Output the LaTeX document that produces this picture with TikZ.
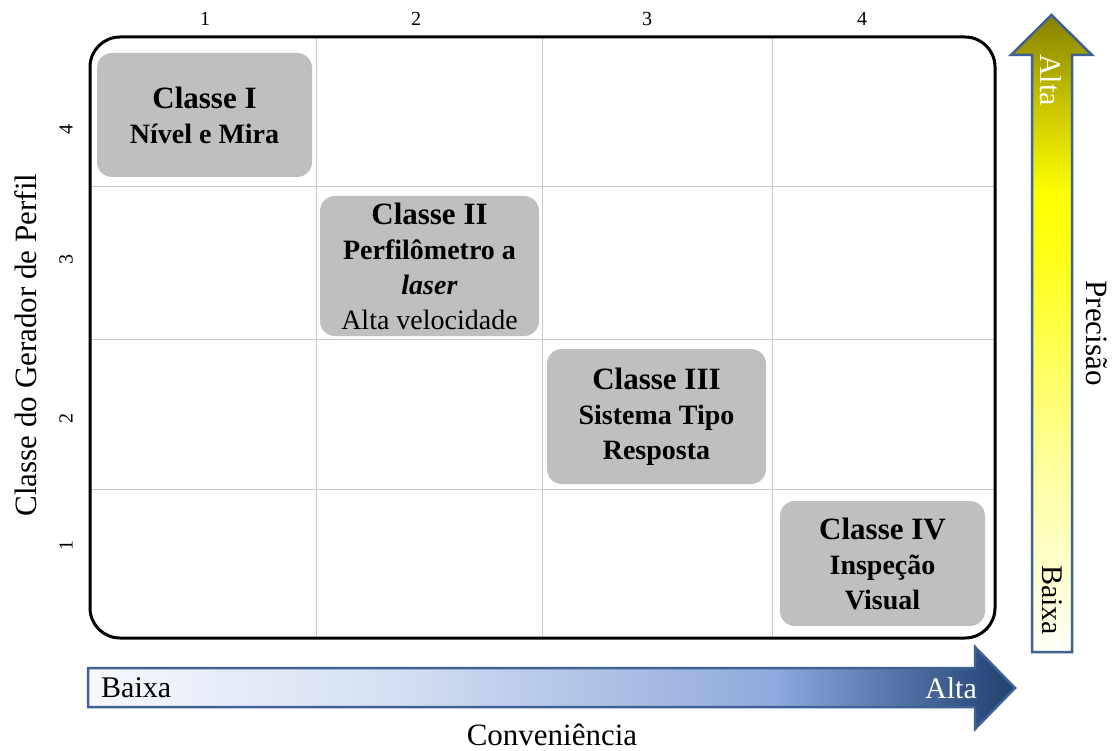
\documentclass[tikz,border=0pt]{standalone}
\usepackage{fontspec}
\setmainfont{Liberation Serif}

\definecolor{boxgray}{HTML}{BFBFBF}
\definecolor{gridgray}{HTML}{C8C8C8}
\definecolor{arrowedge}{HTML}{3F6293}
% convenience arrow colours
\definecolor{cv0}{HTML}{F6F8FD}
\definecolor{cv1}{HTML}{D5E0F2}
\definecolor{cv2}{HTML}{8FAADC}
\definecolor{cv3}{HTML}{2F4F82}
\definecolor{cv4}{HTML}{263F6B}
% precision arrow colours
\definecolor{pr0}{HTML}{FFFFF8}
\definecolor{pr1}{HTML}{FFFF9A}
\definecolor{pr2}{HTML}{FFFF20}
\definecolor{pr3}{HTML}{FFFF00}
\definecolor{pr4}{HTML}{C9C400}
\definecolor{pr5}{HTML}{858000}

\pgfdeclarehorizontalshading{convshade}{100bp}{color(0bp)=(cv0); color(25bp)=(cv0); color(41bp)=(cv1); color(62bp)=(cv2); color(73bp)=(cv3); color(75bp)=(cv4); color(100bp)=(cv4)}
\pgfdeclareverticalshading{precshade}{100bp}{color(0bp)=(pr0); color(25bp)=(pr0); color(40bp)=(pr1); color(55bp)=(pr2); color(61bp)=(pr3); color(68bp)=(pr4); color(75bp)=(pr5); color(100bp)=(pr5)}

\tikzset{
  classbox/.style={fill=boxgray, rounded corners=15pt, align=center, inner sep=0pt,
    font=\fontsize{28}{35}\selectfont\bfseries},
  gridline/.style={draw=gridgray, line width=1pt},
  numlabel/.style={font=\fontsize{20}{24}\selectfont, inner sep=0pt},
  axislabel/.style={font=\fontsize{31}{36}\selectfont, inner sep=0pt},
  arrowtext/.style={font=\fontsize{30}{36}\selectfont, inner sep=0pt},
  arrowshape/.style={draw=arrowedge, line width=2.5pt, line join=miter},
}
\newcommand{\titlesize}{\fontsize{31}{35}\selectfont}

\begin{document}
\begin{tikzpicture}[x=1pt, y=-1pt]
\useasboundingbox (0,0) rectangle (1113,751);

% grid of the matrix
\foreach \gx in {316,542,772}
  \draw[gridline] (\gx,37) -- (\gx,638);
\foreach \gy in {187,339,489}
  \draw[gridline] (90,\gy) -- (995,\gy);

% outer frame
\draw[line width=3pt, rounded corners=30pt] (90,37) rectangle (995,638);

% column and row numbers
\node[numlabel] (col1) at (205,19) {1};
\node[numlabel] (col2) at (416,19) {2};
\node[numlabel] (col3) at (647,19) {3};
\node[numlabel] (col4) at (862,19) {4};
\node[numlabel, rotate=90] (row4) at (66,130) {4};
\node[numlabel, rotate=90] (row3) at (66,260) {3};
\node[numlabel, rotate=90] (row2) at (66,418) {2};
\node[numlabel, rotate=90] (row1) at (66,545) {1};

% classes
\node[classbox, minimum width=215pt, minimum height=124pt] (c1) at (204.5,115)
  {{\titlesize Classe I}\\ Nível e Mira};
\node[classbox, minimum width=219pt, minimum height=140pt] (c2) at (429.5,266)
  {{\titlesize Classe II}\\ Perfilômetro a\\ \textit{laser}\\ {\mdseries Alta velocidade}};
\node[classbox, minimum width=219pt, minimum height=135pt] (c3) at (656.5,416.5)
  {{\titlesize Classe III}\\ Sistema Tipo\\ Resposta};
\node[classbox, minimum width=205pt, minimum height=125pt] (c4) at (882.5,563.5)
  {{\titlesize Classe IV}\\ Inspeção\\ Visual};

% axis titles
\node[axislabel, rotate=90] (ylabel) at (26,345) {Classe do Gerador de Perfil};
\node[axislabel] (xlabel) at (552,735) {Conveniência};
\node[axislabel, rotate=-90] (plabel) at (1097,333) {Precisão};

% convenience arrow
\path[arrowshape, shading=convshade]
  (88,668) -- (975,668) -- (975,647) -- (1015,688) -- (975,729) -- (975,707) -- (88,707) -- cycle;
\node[arrowtext, anchor=west] (clow) at (101,688) {Baixa};
\node[arrowtext, anchor=east, text=white] (chigh) at (977,688) {Alta};

% precision arrow
\path[arrowshape, shading=precshade]
  (1032,652) -- (1032,55) -- (1011,55) -- (1051.5,15) -- (1092,55) -- (1072,55) -- (1072,652) -- cycle;
\node[arrowtext, rotate=-90, text=white] (phigh) at (1051,80) {Alta};
\node[arrowtext, rotate=-90] (plow) at (1052,600) {Baixa};
\end{tikzpicture}
\end{document}
